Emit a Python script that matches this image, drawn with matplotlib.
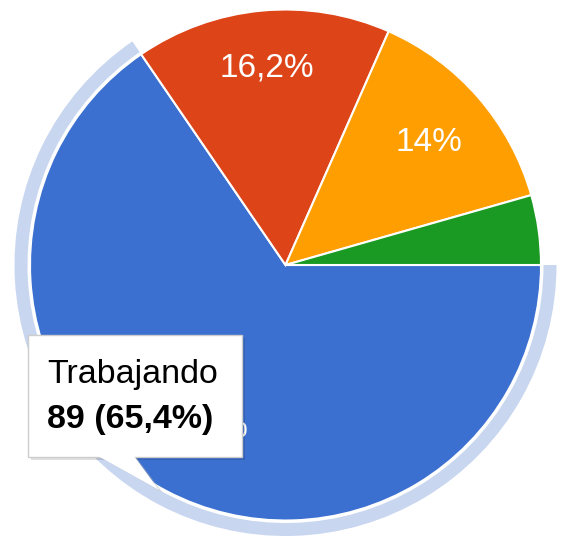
import matplotlib
matplotlib.use("Agg")
import matplotlib.pyplot as plt
from matplotlib.patches import Wedge, Rectangle, Polygon

plt.rcParams['font.family'] = ['Liberation Sans', 'DejaVu Sans']

# data (Google Forms style pie)
labels = ["Trabajando", "Otro 1", "Otro 2", "Otro 3"]
counts = [89, 22, 19, 6]
colors = ["#3b6fd0", "#dd4418", "#fe9e00", "#1b9a23"]
ring_color = "#c8d6f0"

W, H = 561, 541
cx, cy = 285.5, H - 265
R = 255.5


def pct_label(p):
    if p < 5:
        return ""
    v = round(p, 1)
    if v == int(v):
        return f"{int(v)}%"
    return f"{v:.1f}%".replace(".", ",")


fig = plt.figure(figsize=(W / 100, H / 100), dpi=100)
ax = fig.add_axes([0, 0, 1, 1])
ax.set_xlim(0, W)
ax.set_ylim(0, H)
ax.set_aspect("equal")
ax.axis("off")

wedges, texts, autotexts = ax.pie(
    counts, colors=colors, startangle=0, counterclock=False,
    center=(cx, cy), radius=R, autopct=pct_label, pctdistance=0.775,
    wedgeprops=dict(edgecolor="white", linewidth=1.5),
    textprops=dict(color="white", fontsize=24),
)
ax.set_xlim(0, W)
ax.set_ylim(0, H)

# slice label of hovered slice sits mostly behind the tooltip
x0, y0 = autotexts[0].get_position()
autotexts[0].set_position((x0 + 8, y0 + 12))
x1, y1 = autotexts[2].get_position()
autotexts[2].set_position((x1 - 6, y1 - 7))

# highlight ring around the hovered slice
blue_angle = 360 * counts[0] / sum(counts)
ax.add_patch(Wedge((cx, cy), 271, 360 - blue_angle, 360, width=13,
                   facecolor=ring_color, edgecolor="none", zorder=0))

# tooltip
bx0, bx1 = 28, 242
by0, by1 = H - 457, H - 335
ax.add_patch(Rectangle((bx0 + 3, by0 - 3), bx1 - bx0, by1 - by0,
                       facecolor="#000000", alpha=0.12, edgecolor="none", zorder=5))
ax.add_patch(Polygon([(100, H - 457), (136, H - 457), (162, H - 492)],
                     closed=True, facecolor="#b0b0b0", alpha=0.5,
                     edgecolor="none", zorder=5))
ax.add_patch(Polygon([(98, H - 456), (134, H - 456), (159, H - 490)],
                     closed=True, facecolor="white", edgecolor="none", zorder=7))
ax.add_patch(Rectangle((bx0, by0), bx1 - bx0, by1 - by0,
                       facecolor="white", edgecolor="#cccccc", linewidth=1, zorder=6))
ax.text(47, H - 383, labels[0], fontsize=24.5, color="black",
        va="baseline", ha="left", zorder=8)
pct = 100 * counts[0] / sum(counts)
ax.text(47, H - 428, f"{counts[0]} ({pct_label(pct)})", fontsize=24.5,
        fontweight="bold", color="black", va="baseline", ha="left", zorder=8)

fig.savefig("out.png", dpi=100)
